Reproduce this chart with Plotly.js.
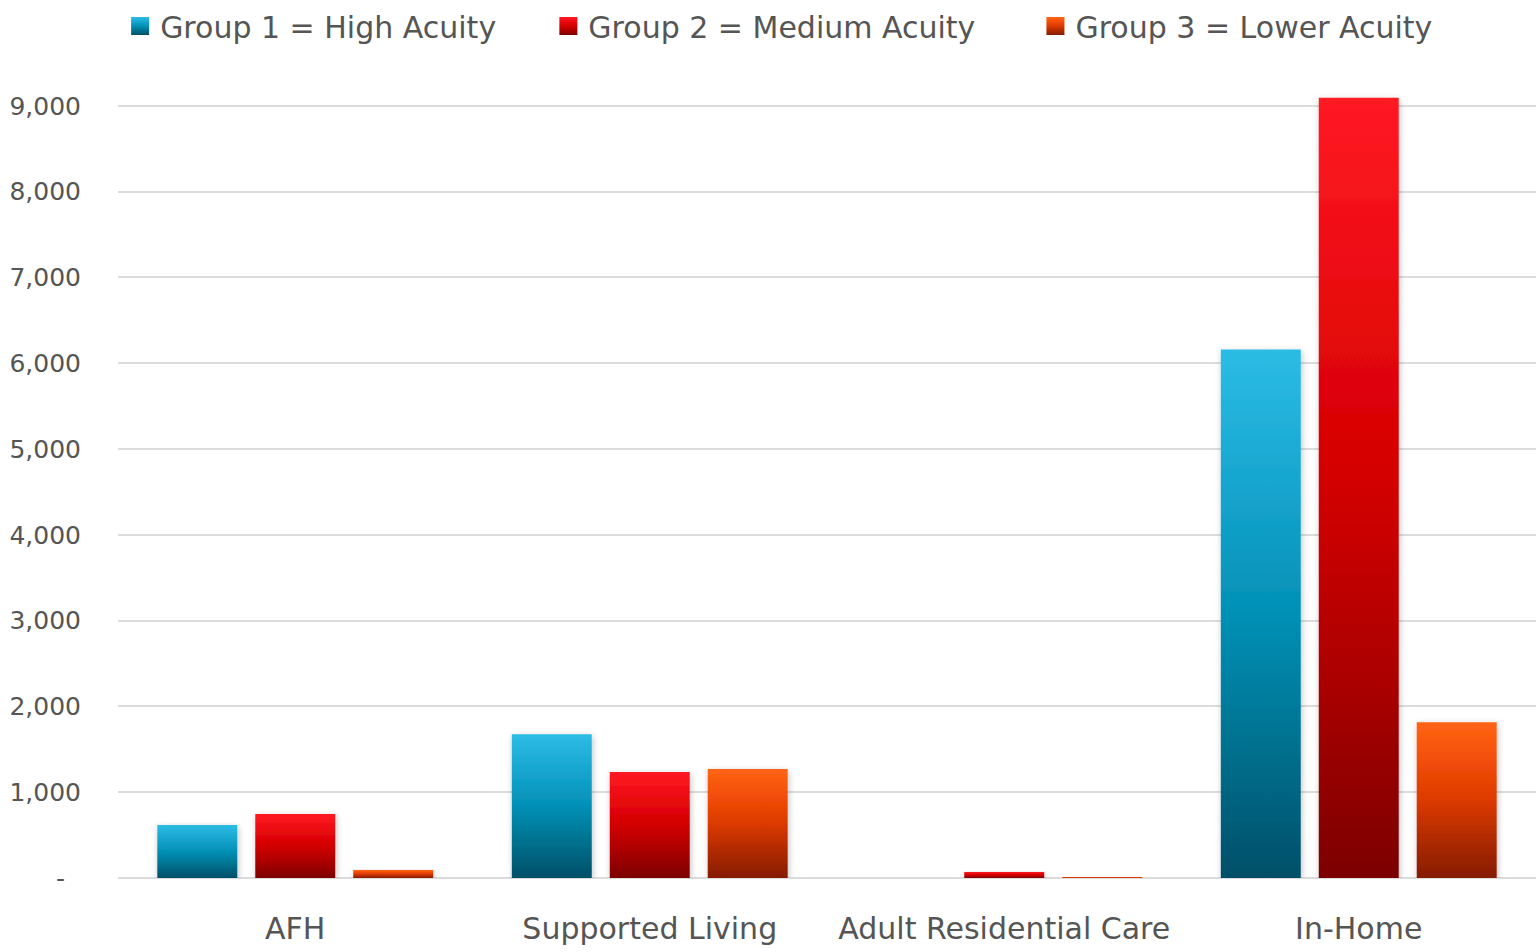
<!DOCTYPE html>
<html>
<head>
<meta charset="utf-8">
<script src="https://cdn.plot.ly/plotly-3.0.1.min.js"></script>
<style>html,body{margin:0;padding:0;background:#fff;}#chart{width:1536px;height:952px;}</style>
</head>
<body>
<div id="chart"></div>
<script>
const categories = ["AFH", "Supported Living", "Adult Residential Care", "In-Home"];
const seriesNames = ["Group 1 = High Acuity", "Group 2 = Medium Acuity", "Group 3 = Lower Acuity"];
const group1 = [617, 1676, 0, 6158];
const group2 = [745, 1234, 70, 9092];
const group3 = [93, 1269, 10, 1816];
const tickVals = [0, 1000, 2000, 3000, 4000, 5000, 6000, 7000, 8000, 9000];
const tickText = ["-\u00a0\u00a0", "1,000", "2,000", "3,000", "4,000", "5,000", "6,000", "7,000", "8,000", "9,000"];

const baseColors = ["#0a8fb5", "#d40000", "#e04000"];
const gradients = [
  [["0", "#2cbce4"], ["0.25", "#17a6cf"], ["0.5", "#0390b6"], ["0.75", "#02718f"], ["1", "#024f68"]],
  [["0", "#ff1a24"], ["0.25", "#ea0a10"], ["0.5", "#d20000"], ["0.75", "#aa0000"], ["1", "#7c0000"]],
  [["0", "#ff6414"], ["0.25", "#f24e08"], ["0.5", "#dc3a02"], ["0.75", "#b02a00"], ["1", "#861c00"]]
];

const font = "'DejaVu Sans', sans-serif";
const allValues = [group1, group2, group3];
const legendNames = ["legend", "legend2", "legend3"];
const traces = allValues.map((vals, i) => ({
  type: "bar",
  name: seriesNames[i],
  x: categories,
  y: vals,
  legend: legendNames[i],
  marker: {color: baseColors[i], line: {width: 0}},
  hoverinfo: "x+y+name"
}));

const legendX = [0.0015, 0.3035, 0.647];
const layout = {
  width: 1536, height: 952,
  paper_bgcolor: "#ffffff", plot_bgcolor: "#ffffff",
  margin: {l: 118, r: 0, t: 0, b: 74},
  barmode: "group",
  bargap: 0.171,
  bargroupgap: 0.184,
  showlegend: true,
  xaxis: {showgrid: false, zeroline: false, showline: false, ticks: "", ticklabelstandoff: 30,
          tickfont: {family: font, size: 30, color: "#555555"}, automargin: false},
  yaxis: {range: [0, 10221], tickvals: tickVals, ticktext: tickText, showgrid: true,
          gridcolor: "#dcdcdc", gridwidth: 2, zeroline: true, zerolinecolor: "#dcdcdc", zerolinewidth: 2,
          showline: false, ticks: "", ticklabelstandoff: 36,
          tickfont: {family: font, size: 25, color: "#555555"}, automargin: false}
};
legendNames.forEach((ln, i) => {
  layout[ln] = {orientation: "h", x: legendX[i], xanchor: "left", y: 0.9715, yanchor: "middle",
                bgcolor: "rgba(0,0,0,0)", font: {family: font, size: 30, color: "#555555"},
                itemwidth: 30};
});

Plotly.newPlot("chart", traces, layout, {displayModeBar: false}).then(() => {
  const svg = document.querySelector("#chart .main-svg");
  const ns = "http://www.w3.org/2000/svg";
  let defs = svg.querySelector("defs");
  if (!defs) { defs = document.createElementNS(ns, "defs"); svg.insertBefore(defs, svg.firstChild); }
  gradients.forEach((stops, i) => {
    const lg = document.createElementNS(ns, "linearGradient");
    lg.setAttribute("id", "barGrad" + i);
    lg.setAttribute("x1", "0"); lg.setAttribute("y1", "0");
    lg.setAttribute("x2", "0"); lg.setAttribute("y2", "1");
    stops.forEach(([off, col]) => {
      const s = document.createElementNS(ns, "stop");
      s.setAttribute("offset", off); s.setAttribute("stop-color", col);
      lg.appendChild(s);
    });
    defs.appendChild(lg);
  });
  const filt = document.createElementNS(ns, "filter");
  filt.setAttribute("id", "barShadow");
  filt.setAttribute("x", "-20%"); filt.setAttribute("y", "-5%");
  filt.setAttribute("width", "140%"); filt.setAttribute("height", "115%");
  const ds = document.createElementNS(ns, "feDropShadow");
  ds.setAttribute("dx", "1"); ds.setAttribute("dy", "2");
  ds.setAttribute("stdDeviation", "3"); ds.setAttribute("flood-color", "#000");
  ds.setAttribute("flood-opacity", "0.25");
  filt.appendChild(ds);
  defs.appendChild(filt);

  document.querySelectorAll("#chart g.trace.bars").forEach((g, i) => {
    g.querySelectorAll("g.point path").forEach(p => {
      p.style.fill = "url(#barGrad" + i + ")";
      p.setAttribute("filter", "url(#barShadow)");
    });
  });
  ["legend", "legend2", "legend3"].forEach((cls, i) => {
    const lg = document.querySelector("#chart g." + cls);
    if (!lg) return;
    lg.querySelectorAll(".legendpoints path").forEach(p => {
      p.style.fill = "url(#barGrad" + i + ")";
      p.setAttribute("d", "M-9,-9H9V9H-9Z");
    });
  });
});
</script>
</body>
</html>
